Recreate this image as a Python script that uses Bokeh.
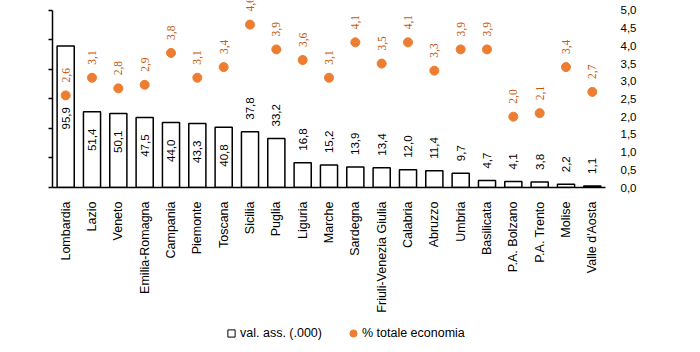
import numpy as np
from bokeh.plotting import figure
from bokeh.layouts import column
from bokeh.models import (Range1d, LinearAxis, FixedTicker, ColumnDataSource,
                          Legend, LegendItem, FactorRange, CustomJSTickFormatter,
                          LabelSet)
from bokeh.embed import file_html
from bokeh.resources import INLINE
from bokeh.core.properties import value

# ---------------- data ----------------
regions = ["Lombardia", "Lazio", "Veneto", "Emilia-Romagna", "Campania", "Piemonte",
           "Toscana", "Sicilia", "Puglia", "Liguria", "Marche", "Sardegna",
           "Friuli-Venezia Giulia", "Calabria", "Abruzzo", "Umbria", "Basilicata",
           "P.A. Bolzano", "P.A. Trento", "Molise", "Valle d'Aosta"]
val_ass = [95.9, 51.4, 50.1, 47.5, 44.0, 43.3, 40.8, 37.8, 33.2, 16.8, 15.2,
           13.9, 13.4, 12.0, 11.4, 9.7, 4.7, 4.1, 3.8, 2.2, 1.1]
pct_tot = [2.6, 3.1, 2.8, 2.9, 3.8, 3.1, 3.4, 4.6, 3.9, 3.6, 3.1, 4.1, 3.5,
           4.1, 3.3, 3.9, 3.9, 2.0, 2.1, 3.4, 2.7]
left_ticks = [0, 20, 40, 60, 80, 100, 120]
right_ticks = [0.0, 0.5, 1.0, 1.5, 2.0, 2.5, 3.0, 3.5, 4.0, 4.5, 5.0]
series_names = ["val. ass. (.000)", "% totale economia"]

FONT = "Liberation Sans"
ORANGE = "#ED7D31"
ORANGE_TXT = "#C55A11"

# the frame reaches the page top; the axes themselves stop 10px lower
HEADROOM = 188 / 178


def fmt(v):
    return f"{v:.1f}".replace(".", ",")


# label placement: inside end for tall bars, outside end otherwise
inside_threshold = 40
label_anchor_override = {"Lombardia": 66}

in_x, in_y, in_t, out_x, out_y, out_t = [], [], [], [], [], []
for r, v in zip(regions, val_ass):
    if v > inside_threshold:
        in_x.append(r)
        in_y.append(label_anchor_override.get(r, v))
        in_t.append(fmt(v))
    else:
        out_x.append(r)
        out_y.append(v)
        out_t.append(fmt(v))

src = ColumnDataSource(dict(x=regions, v=val_ass, p=pct_tot,
                            pl=[fmt(p) for p in pct_tot]))

p = figure(width=700, height=315, output_backend="svg", toolbar_location=None,
           x_range=FactorRange(factors=regions, range_padding=0),
           y_range=Range1d(left_ticks[0], left_ticks[-1] * HEADROOM),
           min_border_left=52, min_border_right=95, min_border_top=0,
           min_border_bottom=127)
p.extra_y_ranges = {"pct": Range1d(right_ticks[0], right_ticks[-1] * HEADROOM)}
p.outline_line_color = None
p.grid.visible = False
p.background_fill_color = "white"
p.border_fill_color = "white"

bars = p.vbar(x="x", top="v", width=0.65, source=src, fill_color="white",
              line_color="black", line_width=1.5)
dots = p.scatter(x="x", y="p", source=src, y_range_name="pct", size=9,
                 fill_color=ORANGE, line_color=ORANGE)

# bar labels
p.text(x=in_x, y=in_y, text=in_t, angle=np.pi / 2, text_align="right",
       text_baseline="middle", y_offset=17, text_font=value(FONT),
       text_font_size="11.5px", text_color="black")
p.text(x=out_x, y=out_y, text=out_t, angle=np.pi / 2, text_align="left",
       text_baseline="middle", y_offset=-12, text_font=value(FONT),
       text_font_size="11.5px", text_color="black")
# dot labels
dot_labels = LabelSet(x="x", y="p", text="pl", source=src, y_range_name="pct",
                      angle=np.pi / 2, text_align="left", text_baseline="middle",
                      y_offset=13, text_font=FONT, text_font_size="11.5px",
                      text_color=ORANGE_TXT)
p.add_layout(dot_labels)

# x axis
xa = p.xaxis[0]
xa.major_tick_line_color = None
xa.minor_tick_line_color = None
xa.axis_line_color = "black"
xa.axis_line_width = 1.5
xa.major_label_orientation = np.pi / 2
xa.major_label_standoff = 8
xa.major_label_text_font = FONT
xa.major_label_text_font_size = "12.5px"
xa.major_label_text_color = "black"

# left axis (no labels)
ya = p.yaxis[0]
ya.ticker = FixedTicker(ticks=left_ticks)
ya.bounds = (left_ticks[0], left_ticks[-1])
ya.minor_tick_line_color = None
ya.major_tick_in = 0
ya.major_tick_out = 4
ya.major_tick_line_width = 1.5
ya.axis_line_width = 1.5
ya.axis_line_color = "black"
ya.major_tick_line_color = "black"
ya.major_label_text_color = None

# right axis
ra = LinearAxis(y_range_name="pct", ticker=FixedTicker(ticks=right_ticks),
                bounds=(right_ticks[0], right_ticks[-1]),
                formatter=CustomJSTickFormatter(code="return tick.toFixed(1).replace('.', ',')"))
ra.axis_line_color = None
ra.major_tick_line_color = None
ra.minor_tick_line_color = None
ra.major_label_standoff = 9
ra.major_label_text_font = FONT
ra.major_label_text_font_size = "11.5px"
ra.major_label_text_color = "black"
p.add_layout(ra, "right")

# ---------------- legend strip ----------------
lf = figure(width=700, height=37, output_backend="svg", toolbar_location=None,
            x_range=Range1d(0, 1), y_range=Range1d(0, 1),
            min_border=0, outline_line_color=None)
lf.axis.visible = False
lf.grid.visible = False
# legend-only swatches (no data drawn)
sw_bar = lf.scatter(x=[float("nan")], y=[float("nan")], marker="square",
                    fill_color="white", line_color="black", line_width=1)
sw_dot = lf.scatter(x=[float("nan")], y=[float("nan")], marker="circle",
                    fill_color=ORANGE, line_color=ORANGE)
leg = Legend(items=[LegendItem(label=series_names[0], renderers=[sw_bar]),
                    LegendItem(label=series_names[1], renderers=[sw_dot])],
             location=(170, 10), orientation="horizontal", glyph_width=18,
             glyph_height=18, label_standoff=-6, spacing=22, padding=0, margin=0,
             background_fill_alpha=0, border_line_color=None,
             label_text_font=FONT, label_text_font_size="12.5px",
             label_text_color="black")
lf.add_layout(leg, "center")

open("out.html", "w").write(file_html(column(p, lf, spacing=0), INLINE))
